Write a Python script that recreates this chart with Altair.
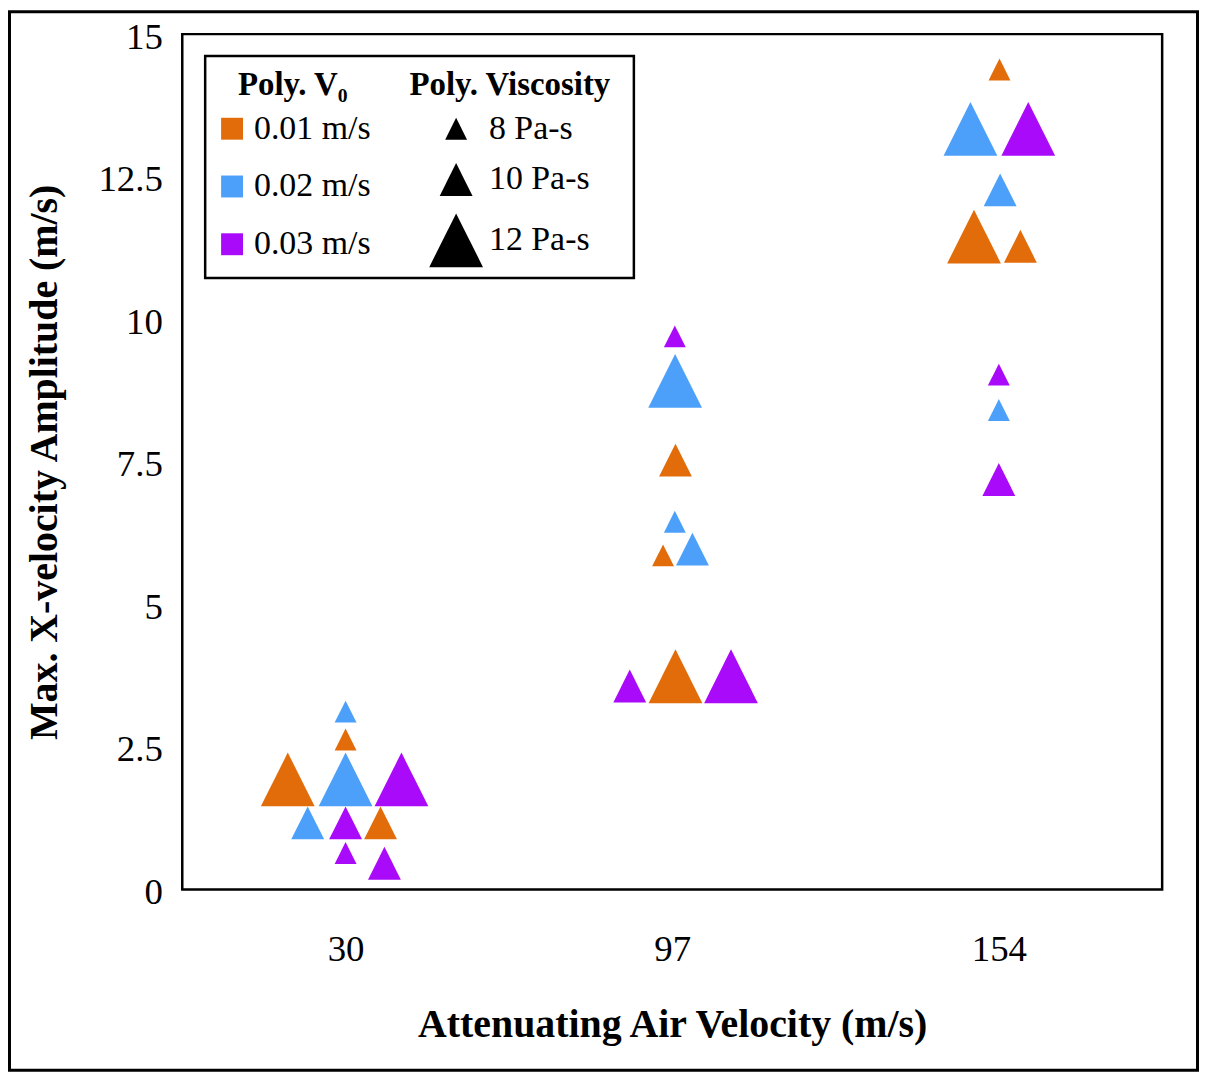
import altair as alt
import pandas as pd

# ---- data ----
air_labels = ["30", "97", "154"]            # attenuating air velocity (m/s), x categories
v0_labels = ["0.01 m/s", "0.02 m/s", "0.03 m/s"]
visc_values = [8, 10, 12]                   # Pa-s
colors = ["#E36C0A", "#4DA0FA", "#AA0AFA"]

# one entry per marker
group = [1, 1, 1, 1, 1, 1, 1, 1, 1, 1,
         2, 2, 2, 2, 2, 2, 2, 2, 2,
         3, 3, 3, 3, 3, 3, 3, 3, 3]
v0 = ["0.02 m/s", "0.01 m/s", "0.01 m/s", "0.02 m/s", "0.03 m/s",
      "0.02 m/s", "0.03 m/s", "0.01 m/s", "0.03 m/s", "0.03 m/s",
      "0.03 m/s", "0.02 m/s", "0.01 m/s", "0.02 m/s", "0.01 m/s",
      "0.02 m/s", "0.03 m/s", "0.01 m/s", "0.03 m/s",
      "0.01 m/s", "0.02 m/s", "0.03 m/s", "0.02 m/s", "0.01 m/s",
      "0.01 m/s", "0.03 m/s", "0.02 m/s", "0.03 m/s"]
visc = [8, 8, 12, 12, 12, 10, 10, 10, 8, 10,
        8, 12, 10, 8, 8, 10, 10, 12, 12,
        8, 12, 12, 10, 12, 10, 8, 8, 10]
amplitude = [3.12, 2.63, 1.93, 1.93, 1.93, 1.17, 1.17, 1.17, 0.64, 0.46,
             9.70, 8.92, 7.53, 6.45, 5.86, 5.97, 3.57, 3.74, 3.74,
             14.38, 13.34, 13.34, 12.27, 11.45, 11.28, 9.03, 8.41, 7.19]
# horizontal spread of overlapping markers within a category (category units)
spread = [0.0, 0.0, -0.177, 0.0, 0.171, -0.116, 0.0, 0.107, 0.0, 0.119,
          0.008, 0.009, 0.01, 0.008, -0.028, 0.062, -0.13, 0.01, 0.18,
          0.002, -0.087, 0.09, 0.004, -0.076, 0.066, 0.0, 0.0, 0.0]

df = pd.DataFrame({
    "group": group, "v0": v0, "visc": [f"{v} Pa-s" for v in visc],
    "amp": amplitude, "spread": spread,
})
df["xpos"] = df["group"] + df["spread"]

visc_domain = [f"{v} Pa-s" for v in visc_values]
y_ticks = [0, 2.5, 5, 7.5, 10, 12.5, 15]

TRI = "M0,-1L1,1L-1,1Z"
FONT = "Liberation Serif"
W, H = 984, 859

label_expr = "[" + ",".join(f"'{a}'" for a in air_labels) + "][datum.value - 1]"

points = alt.Chart(df).mark_point(shape=TRI, filled=True, opacity=1, strokeWidth=0).encode(
    x=alt.X("xpos:Q",
            scale=alt.Scale(domain=[0.5, 3.5], nice=False, zero=False),
            axis=alt.Axis(values=[1, 2, 3], labelExpr=label_expr, grid=False, ticks=False,
                          domain=False, labelFont=FONT, labelFontSize=37, labelColor="black",
                          labelPadding=42, title="Attenuating Air Velocity (m/s)",
                          titleFont=FONT, titleFontSize=40, titleFontWeight="bold",
                          titleColor="black", titleX=W / 2, titleY=116)),
    y=alt.Y("amp:Q",
            scale=alt.Scale(domain=[0, 15], nice=False, zero=True),
            axis=alt.Axis(values=y_ticks, format=".1~f", grid=False, ticks=False, domain=False,
                          labelFont=FONT, labelFontSize=37, labelColor="black", labelPadding=20,
                          labelOffset=3,
                          title="Max. X-velocity Amplitude (m/s)", titleFont=FONT,
                          titleFontSize=40, titleFontWeight="bold", titleColor="black",
                          titleX=-118, titleY=H / 2)),
    color=alt.Color("v0:N", scale=alt.Scale(domain=v0_labels, range=colors),
                    legend=alt.Legend(title="Poly. V₀", orient="none", legendX=33, legendY=35,
                                      symbolType="square", symbolSize=484, symbolStrokeWidth=0,
                                      labelOffset=5, rowPadding=24, titlePadding=10,
                                      titleAnchor="middle", padding=0)),
    size=alt.Size("visc:O", scale=alt.Scale(type="ordinal", domain=visc_domain,
                                            range=[484, 1089, 2916]),
                  legend=alt.Legend(title="Poly. Viscosity", orient="none", legendX=228, legendY=35,
                                    symbolType=TRI, symbolFillColor="black",
                                    symbolStrokeColor="black", symbolStrokeWidth=0,
                                    labelOffset=6, rowPadding=17, titlePadding=10,
                                    titleAnchor="middle", padding=0)),
)

one = pd.DataFrame({"k": [0]})
outer = alt.Chart(one).mark_rect(fill="white", fillOpacity=0, stroke="black", strokeWidth=3).encode(
    x=alt.value(-173.5), x2=alt.value(1019.5), y=alt.value(-22.5), y2=alt.value(1040.5))
legend_box = alt.Chart(one).mark_rect(fill="white", stroke="black", strokeWidth=2.5).encode(
    x=alt.value(23), x2=alt.value(453.5), y=alt.value(22), y2=alt.value(245))

chart = alt.layer(outer, legend_box, points).properties(
    width=W, height=H, padding=0, background="white"
).configure(font=FONT).configure_view(stroke="black", strokeWidth=2.5).configure_legend(
    labelFont=FONT, labelFontSize=34, labelColor="black",
    titleFont=FONT, titleFontSize=33, titleFontWeight="bold", titleColor="black",
    titleLimit=400, labelLimit=400,
)

chart.save("out.html", embed_options={"renderer": "svg", "actions": False})
